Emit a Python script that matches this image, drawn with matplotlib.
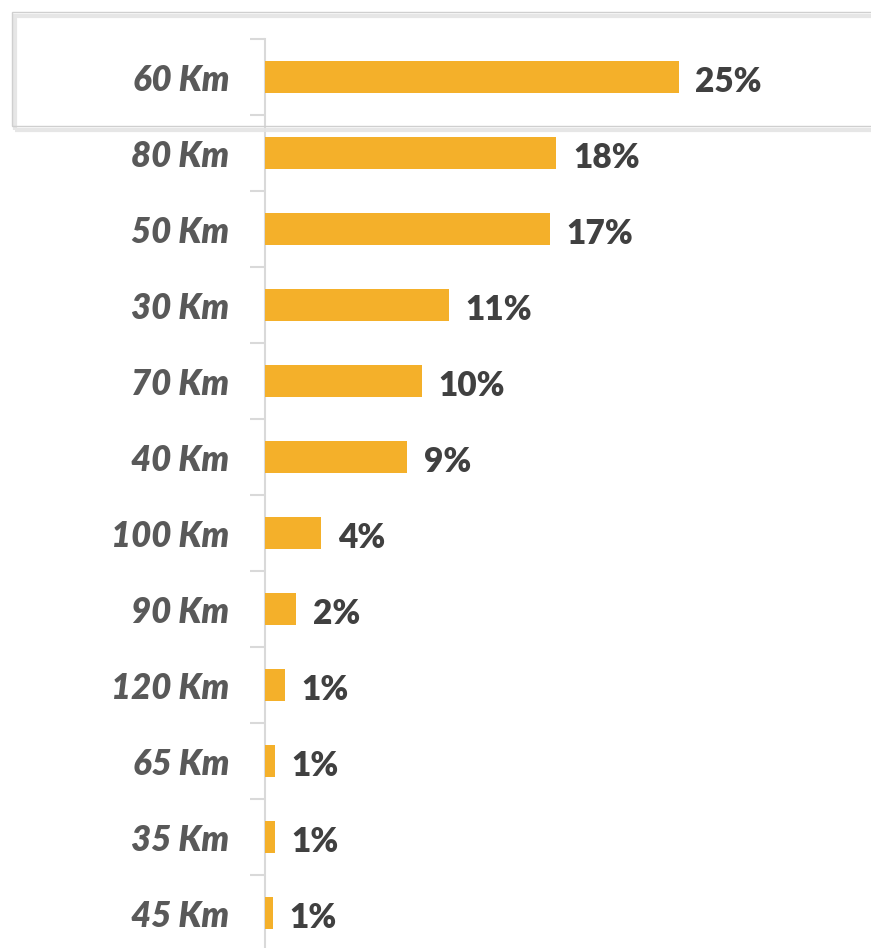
import matplotlib
matplotlib.use("Agg")
import matplotlib.pyplot as plt
from matplotlib.patches import Rectangle, Shadow

categories = ["60 Km", "80 Km", "50 Km", "30 Km", "70 Km", "40 Km",
              "100 Km", "90 Km", "120 Km", "65 Km", "35 Km", "45 Km"]
values = [25.0, 17.6, 17.2, 11.1, 9.5, 8.6, 3.4, 1.9, 1.2, 0.6, 0.6, 0.5]
value_labels = ["25%", "18%", "17%", "11%", "10%", "9%", "4%", "2%", "1%", "1%", "1%", "1%"]

W, H = 871, 948
fig = plt.figure(figsize=(W / 100, H / 100), dpi=100)

ax_left = 265 / W
ax_right = 871 / W
ax_top = 1 - 39 / H
ax_bottom = 1 - 951 / H
ax = fig.add_axes([ax_left, ax_bottom, ax_right - ax_left, ax_top - ax_bottom])

n = len(categories)
ypos = list(range(n))
ax.barh(ypos, values, height=0.41, color="#F4B02A", zorder=3)
ax.set_ylim(n - 0.5, -0.5)
ax.set_xlim(0, 36.6)

for y, v, lab in zip(ypos, values, value_labels):
    ax.text(v + 1.0, y + 0.07, lab, va="center", ha="left", fontsize=24,
            fontweight="heavy", color="#404040", family=["Lato", "DejaVu Sans"])

for y, c in zip(ypos, categories):
    ax.text(-36 / 16.56, y + 0.04, c, va="center", ha="right", fontsize=25,
            fontweight="heavy", fontstyle="italic", color="#595959",
            family=["Lato", "DejaVu Sans"])

for s in ["top", "right", "bottom"]:
    ax.spines[s].set_visible(False)
ax.spines["left"].set_color("#D9D9D9")
ax.spines["left"].set_linewidth(1.5)
ax.set_xticks([])
ax.set_yticks([i - 0.5 for i in range(n + 1)])
ax.set_yticklabels([])
ax.tick_params(axis="y", length=11, width=1.5, color="#D9D9D9")

# highlight box around the first row
rect = Rectangle((12 / W, 1 - 126 / H), (W + 10 - 12) / W, (126 - 12) / H,
                 transform=fig.transFigure, facecolor="none",
                 edgecolor="#CFCFCF", linewidth=1.0, zorder=5)
shadow = Shadow(rect, 2 / W, -3 / H, facecolor="none", edgecolor="#E4E4E4",
                linewidth=3, alpha=0.9, zorder=4)
fig.patches.append(shadow)
fig.patches.append(rect)

fig.savefig("out.png", dpi=100)
